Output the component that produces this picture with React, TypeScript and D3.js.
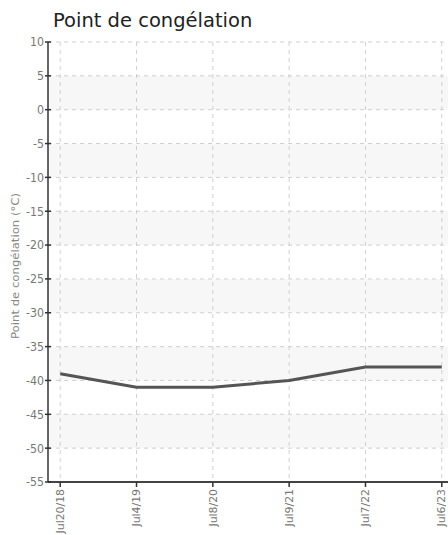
import React from "react";
import * as d3 from "d3";

const categories = ["Jul20/18", "Jul4/19", "Jul8/20", "Jul9/21", "Jul7/22", "Jul6/23"];
const values = [-39, -41, -41, -40, -38, -38];
const yTicks = [10, 5, 0, -5, -10, -15, -20, -25, -30, -35, -40, -45, -50, -55];

const W = 448;
const H = 535;
const left = 48;
const right = 454;
const top = 42;
const bottom = 482;
const font = "'DejaVu Sans', sans-serif";

export default function App() {
  const x = d3.scalePoint<string>().domain(categories).range([left, right]).padding(0.16);
  const y = d3.scaleLinear().domain([-55, 10]).range([bottom, top]);
  const line = d3
    .line<number>()
    .x((_, i) => x(categories[i]) as number)
    .y((d) => y(d))
    .curve(d3.curveLinear);

  const bands = [];
  for (let i = 0; i < yTicks.length - 1; i++) {
    if (i % 2 === 1) {
      bands.push(
        <rect
          key={"b" + i}
          x={left}
          y={y(yTicks[i])}
          width={right - left}
          height={y(yTicks[i + 1]) - y(yTicks[i])}
          fill="#f7f7f7"
        />
      );
    }
  }

  return (
    <svg width={W} height={H} style={{ position: "absolute", left: 0, top: 0 }}>
      <rect x={0} y={0} width={W} height={H} fill="#fff" />
      <text x={53} y={27} fontFamily={font} fontSize={19.5} fill="#222">
        Point de congélation
      </text>
      {bands}
      {yTicks.map((t) => (
        <line key={"gy" + t} x1={left} x2={right} y1={y(t)} y2={y(t)} stroke="#d0d0d0" strokeDasharray="4,4" />
      ))}
      {categories.map((c) => (
        <line key={"gx" + c} x1={x(c)} x2={x(c)} y1={top} y2={bottom} stroke="#d0d0d0" strokeDasharray="4,4" />
      ))}
      <path d={line(values) || ""} fill="none" stroke="#555" strokeWidth={3} strokeLinejoin="round" />
      <line x1={left} x2={left} y1={top} y2={bottom} stroke="#333" strokeWidth={1.5} />
      <line x1={left} x2={right} y1={bottom} y2={bottom} stroke="#444" strokeWidth={2} />
      {yTicks.map((t) => (
        <g key={"ty" + t}>
          <line x1={left - 3} x2={left + 3} y1={y(t)} y2={y(t)} stroke="#333" strokeWidth={1.5} />
          <text
            transform={`translate(${left - 4},${y(t)}) scale(0.92,1.05)`}
            dy="0.35em"
            textAnchor="end"
            fontFamily={font}
            fontSize={12}
            fill="#777"
          >
            {t}
          </text>
        </g>
      ))}
      {categories.map((c) => (
        <g key={"tx" + c}>
          <line x1={x(c)} x2={x(c)} y1={bottom} y2={bottom + 5} stroke="#333" strokeWidth={1.5} />
          <text
            transform={`translate(${x(c)},${bottom + 7}) rotate(-90) scale(0.99,0.95)`}
            textAnchor="end"
            dy="0.35em"
            fontFamily={font}
            fontSize={11}
            fill="#777"
          >
            {c}
          </text>
        </g>
      ))}
      <text
        transform={`translate(15,266) rotate(-90)`}
        textAnchor="middle"
        fontFamily={font}
        fontSize={10}
        fill="#888"
        dy="0.35em"
        textLength={146}
        lengthAdjust="spacingAndGlyphs"
      >
        Point de congélation (°C)
      </text>
    </svg>
  );
}
